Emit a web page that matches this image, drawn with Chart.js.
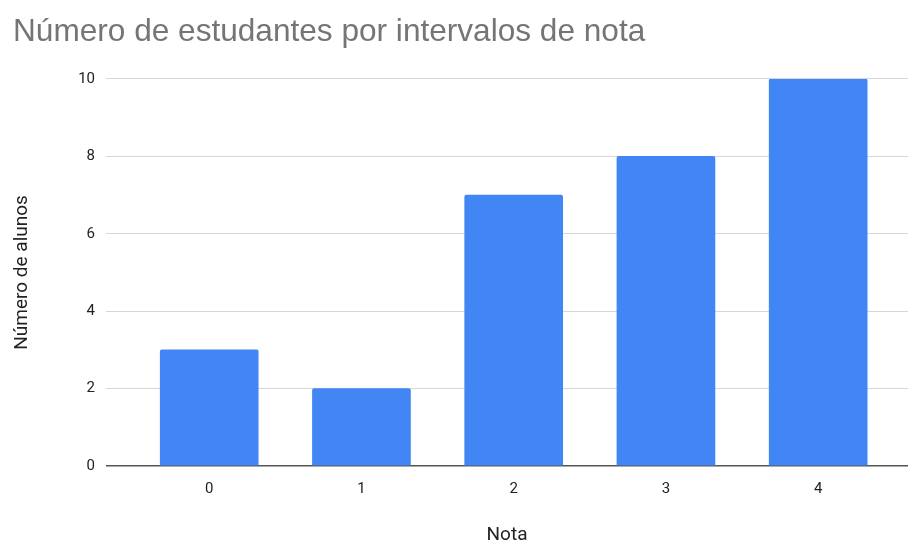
<!DOCTYPE html>
<html>
<head>
<meta charset="utf-8">
<script src="https://cdn.jsdelivr.net/npm/chart.js@4"></script>
<style>
  html, body { margin: 0; padding: 0; background: #fff; }
  #wrap { width: 909px; height: 545px; }
</style>
</head>
<body>
<div id="wrap"><canvas id="grafico" width="909" height="545"></canvas></div>
<script>
// notas (eixo x) e número de alunos em cada intervalo
var notas = [0, 1, 2, 3, 4];
var alunos = [3, 2, 7, 8, 10];
var yTicks = [0, 2, 4, 6, 8, 10];

var pontos = notas.map(function (n, i) { return { x: n, y: alunos[i] }; });

new Chart(document.getElementById('grafico'), {
  type: 'bar',
  data: {
    datasets: [{
      label: 'Número de alunos',
      data: pontos,
      backgroundColor: '#4285f4',
      borderWidth: 0,
      borderRadius: { topLeft: 2, topRight: 2, bottomLeft: 0, bottomRight: 0 },
      borderSkipped: false,
      barThickness: 98
    }]
  },
  options: {
    responsive: false,
    animation: false,
    layout: { padding: { left: 13, right: 1, top: 0, bottom: 0 } },
    plugins: {
      legend: { display: false },
      tooltip: { enabled: false },
      title: {
        display: true,
        text: 'Número de estudantes por intervalos de nota',
        align: 'start',
        color: '#757575',
        font: { family: 'Liberation Sans', size: 31.6, weight: 'normal' },
        padding: { top: 13, bottom: 28 }
      }
    },
    scales: {
      x: {
        type: 'linear',
        offset: false,
        min: -0.678,
        max: 4.59,
        grid: { display: false, offset: false },
        border: { display: false },
        afterBuildTicks: function (axis) {
          axis.ticks = notas.map(function (v) { return { value: v }; });
        },
        afterFit: function (axis) { axis.height = 79; },
        ticks: {
          color: '#222',
          padding: 6,
          font: { family: 'Roboto', size: 15 }
        },
        title: {
          display: true,
          text: 'Nota',
          color: '#222',
          font: { family: 'Roboto', size: 19, lineHeight: 1 },
          padding: { top: 0, bottom: 0 }
        }
      },
      y: {
        min: 0,
        max: 10,
        afterBuildTicks: function (axis) {
          axis.ticks = yTicks.map(function (v) { return { value: v }; });
        },
        afterFit: function (axis) { axis.width = 93; },
        border: { display: false },
        grid: {
          drawTicks: false,
          color: function (c) { return c.tick && c.tick.value === 0 ? '#555' : '#d6d6d6'; },
          lineWidth: function (c) { return c.tick && c.tick.value === 0 ? 1.5 : 1; }
        },
        ticks: {
          color: '#222',
          padding: 11,
          font: { family: 'Roboto', size: 15 }
        },
        title: {
          display: true,
          text: 'Número de alunos',
          color: '#222',
          font: { family: 'Roboto', size: 19, lineHeight: 1 },
          padding: { top: 0, bottom: 0 }
        }
      }
    }
  }
});
</script>
</body>
</html>
